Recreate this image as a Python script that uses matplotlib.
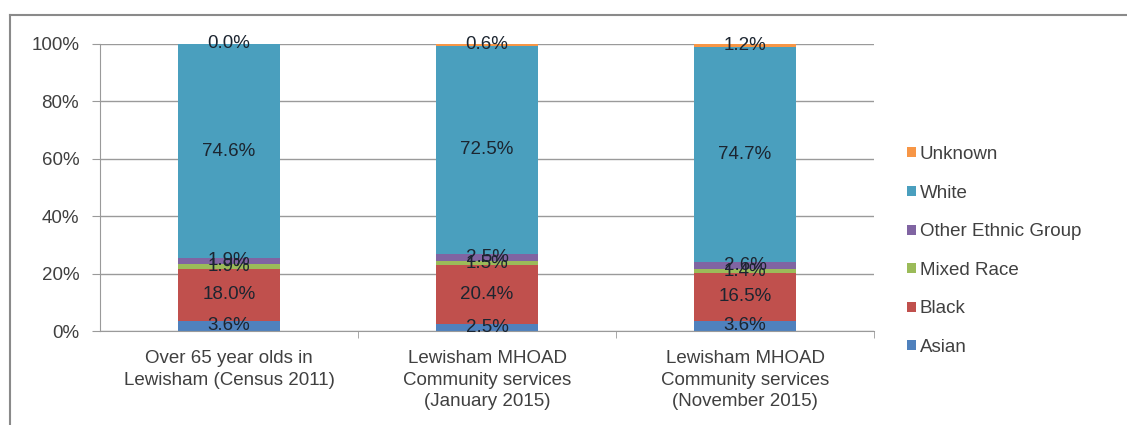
import numpy as np
import matplotlib
matplotlib.use("Agg")
import matplotlib.pyplot as plt
from matplotlib.lines import Line2D

plt.rcParams['font.family'] = ['Liberation Sans', 'DejaVu Sans']

groups = ["Over 65 year olds in\nLewisham (Census 2011)",
          "Lewisham MHOAD\nCommunity services\n(January 2015)",
          "Lewisham MHOAD\nCommunity services\n(November 2015)"]
asian = [3.6, 2.5, 3.6]
black = [18.0, 20.4, 16.5]
mixed = [1.9, 1.5, 1.4]
other = [1.9, 2.5, 2.6]
white = [74.6, 72.5, 74.7]
unknown = [0.0, 0.6, 1.2]

series = [("Asian", asian, "#4F81BD"),
          ("Black", black, "#C0504D"),
          ("Mixed Race", mixed, "#9BBB59"),
          ("Other Ethnic Group", other, "#8064A2"),
          ("White", white, "#4A9FBE"),
          ("Unknown", unknown, "#F79646")]

fs = 13.5

fig = plt.figure(figsize=(11.27, 4.25), dpi=100)
ax = fig.add_axes([100 / 1127, 1 - 331 / 425, 774 / 1127, 287 / 425])

x = np.arange(len(groups))
bottom = np.zeros(len(groups))
handles = []
for name, vals, col in series:
    vals = np.array(vals)
    b = ax.bar(x, vals / 100, 0.395, bottom=bottom / 100, color=col, label=name, zorder=2)
    handles.append(b)
    for xi, v, b0 in zip(x, vals, bottom):
        ax.text(xi, (b0 + v / 2) / 100, f"{v:.1f}%", ha="center", va="center",
                fontsize=fs, color="#1c2530", zorder=3)
    bottom += vals

ax.set_xlim(-0.5, 2.5)
ax.set_ylim(0, 1)
ax.set_yticks(np.arange(0, 1.01, 0.2))
ax.set_yticklabels([f"{int(t * 100)}%" for t in np.arange(0, 1.01, 0.2)],
                   fontsize=fs, color="#404040")
ax.yaxis.grid(True, color="#9a9a9a", linewidth=1, zorder=0)
ax.set_xticks(x)
ax.set_xticklabels(groups, fontsize=fs, color="#404040", linespacing=1.33, va="top")
ax.set_xticks([0.5, 1.5, 2.5], minor=True)
ax.tick_params(axis="x", which="major", length=0, pad=14)
ax.tick_params(axis="x", which="minor", length=5, color="#9a9a9a", direction="out")
ax.tick_params(axis="y", length=6, color="#9a9a9a", pad=9)
for s in ["top", "right"]:
    ax.spines[s].set_visible(False)
ax.spines["left"].set_color("#9a9a9a")
ax.spines["bottom"].set_color("#9a9a9a")

fig.legend(handles[::-1], [s[0] for s in series][::-1], loc="center left",
           bbox_to_anchor=(898 / 1127, 1 - 251 / 425), frameon=False, fontsize=fs,
           handlelength=0.45, handleheight=0.45, handletextpad=0.2, labelspacing=1.15,
           labelcolor="#404040", borderpad=0)

# outer frame lines
fig.add_artist(Line2D([10 / 1127, 1], [1 - 15 / 425, 1 - 15 / 425], color="#8a8a8a", lw=1.5))
fig.add_artist(Line2D([10 / 1127, 10 / 1127], [0, 1 - 15 / 425], color="#8a8a8a", lw=1.5))

fig.savefig("out.png", dpi=100)
